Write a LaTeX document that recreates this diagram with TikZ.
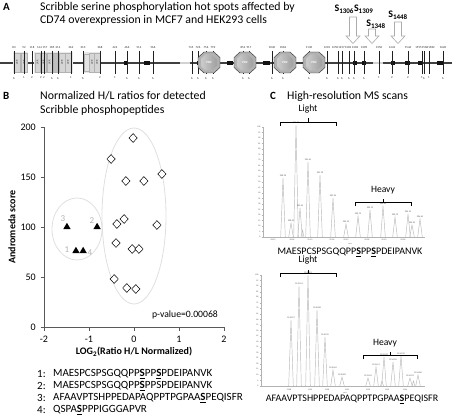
\documentclass[tikz,border=0pt]{standalone}
\usepackage{fontspec}
\setmainfont{Carlito}
\setsansfont{Carlito}
\usetikzlibrary{arrows.meta,shapes.geometric,positioning}
\newcommand{\psite}{\underline{\textbf{S}}}

\begin{document}
\begin{tikzpicture}[x=1pt,y=-1pt,
    every node/.style={inner sep=0pt},
    headtxt/.style={anchor=west, font=\fontsize{11.8}{13}\selectfont},
    panel/.style={anchor=west, font=\fontsize{11}{13}\selectfont\bfseries},
    tinynum/.style={font=\fontsize{3}{3}\selectfont, text=gray!30!black},
    lrrbox/.style={draw=gray!60, fill=gray!32, line width=0.3pt},
    lrrtxt/.style={rotate=90, font=\fontsize{2.6}{3}\selectfont, text=gray!30!black},
    tickline/.style={line width=0.3pt, gray!25!black},
    hollowarrow/.style={draw=gray!65, fill=white, line width=0.6pt},
    slab/.style={font=\fontsize{10}{12}\selectfont\bfseries},
    axisline/.style={draw=gray!70!black, line width=0.5pt},
    ticklab/.style={font=\fontsize{10}{11}\selectfont},
    axlab/.style={font=\fontsize{10}{11}\selectfont\bfseries},
    hipoint/.style={diamond, draw, fill=white, minimum width=8.5pt, minimum height=9pt, line width=0.5pt},
    lopoint/.style={regular polygon, regular polygon sides=3, fill=black, minimum size=8.5pt},
    ptnum/.style={font=\fontsize{9}{10}\selectfont, text=gray!60},
    grpellipse/.style={draw=gray!25, line width=0.8pt},
    peak/.style={draw=gray!55, line width=0.45pt},
    peaklab/.style={font=\fontsize{2.2}{2.5}\selectfont, text=gray!50!black, anchor=south},
    speclab/.style={font=\fontsize{2}{2}\selectfont, text=gray!50!black},
    brack/.style={line width=0.8pt},
    ionlab/.style={font=\fontsize{9.6}{11}\selectfont},
    seq/.style={anchor=west, font=\fontsize{11}{13}\selectfont},
    specseq/.style={font=\fontsize{10}{12}\selectfont}]
\useasboundingbox (0,0) rectangle (452,417);

% ---------- A: Scribble domain map
\node[panel] (pa) at (3,7) {A};
\node[headtxt] (ta1) at (40,7) {Scribble serine phosphorylation hot spots affected by};
\node[headtxt] (ta2) at (40,20.5) {CD74 overexpression in MCF7 and HEK293 cells};

\draw[line width=2.2pt, gray!50!black] (0,63) -- (452,63);
\draw[line width=2.6pt, gray!35] (180,63) -- (190,63);
\draw[line width=2.6pt, gray!35] (373,63) -- (383,63);
\foreach \bx/\bw in {126/2,147/3,198/1.5,230/3,266/3.5,355/2,364/2,393/2,407/2.5,420/2,440/3}
  \fill[gray!15!black] ({\bx-\bw},61) rectangle ({\bx+\bw},65);

% LRR repeats
\foreach \xa/\xb in {13/28,34/73,83/100}
  \fill[gray!18] (\xa,52) rectangle (\xb,73);
\foreach \bx [count=\i] in {17,24,37.5,43.5,49.5,62,68,92,97} {
  \draw[lrrbox] ({\bx-2.8},53) rectangle ({\bx+2.8},72);
  \node[lrrtxt] (lrr\i) at (\bx,62.5) {LRR};
}
\draw[lrrbox, fill=gray!50] (53,53) rectangle (58.6,72);
\draw[lrrbox, fill=gray!22] (84,54) rectangle (89,71);

% position ticks (label x may sit a little off the tick)
\foreach \px/\lx/\tl/\bl [count=\i] in {14/14/83/6,24/24/92/1,32/32/118/2,41/39.5/144/2,44/45/157/2,
    52/52/185/6,58/58/214/6,71/71/262/1,83/83/310/6,100/100/368/2,115/115/424/1,127/127/466/6,
    139/139/514/6,153/153/566/6,192/191/745/6,198/198/726/6,206/206/756/6,213/213/792/6,
    243/243/854/6,249/249/917/6,272/272/1040/6,283/283/1063/6,309/309/1130/6,327/327/1201/6,
    338/335/1250/6,342/341.5/1257/6,349/348/1302/6,354/355/1303/6,364/364/1309/6,379/379/1350/1,
    392/392/1442/2,408/408/1546/2,422/418.5/1555/1,424/425/1568/6,429/431.5/1582/1,443/443/1620/6} {
  \draw[tickline] (\px,51) -- (\px,74);
  \node[tinynum] (tt\i) at (\lx,47.5) {\tl};
  \node[tinynum] (tb\i) at (\px,78) {\bl};
}

% PDZ domains
\foreach \c [count=\i] in {209,245,285,314} {
  \draw[fill=gray!62, draw=gray!35!black, line width=0.4pt]
    ({\c-11},57.5) -- ({\c-5},52) -- ({\c+5},52) -- ({\c+11},57.5) -- ({\c+11},67.5)
    -- ({\c+5},73) -- ({\c-5},73) -- ({\c-11},67.5) -- cycle;
  \draw[left color=gray!40, right color=gray!75, draw=gray!55]
    ({\c-8},58.5) -- ({\c-4},54.5) -- ({\c+4},54.5) -- ({\c+8},58.5) -- ({\c+8},66.5)
    -- ({\c+4},70.5) -- ({\c-4},70.5) -- ({\c-8},66.5) -- cycle;
  \node[font=\fontsize{3.2}{4}\selectfont\bfseries, text=white] (pdz\i) at (\c,62.5) {PDZ};
}

% hot spot arrows
\foreach \ax/\at [count=\i] in {353/17,372/29,398/22}
  \draw[hollowarrow] ({\ax-3.5},\at) -- ({\ax+3.5},\at) -- ({\ax+3.5},36) -- ({\ax+7},36)
    -- (\ax,43.5) -- ({\ax-7},36) -- ({\ax-3.5},36) -- cycle;
\node[slab] (s1) at (354,9) {S\textsubscript{1306}S\textsubscript{1309}};
\node[slab] (s2) at (376,24) {S\textsubscript{1348}};
\node[slab] (s3) at (398,15) {S\textsubscript{1448}};

% ---------- B: scatter plot
\node[panel] (pb) at (3,96) {B};
\node[headtxt] (tb1) at (40,96) {Normalized H/L ratios for detected};
\node[headtxt] (tb2) at (40,110) {Scribble phosphopeptides};

\draw[grpellipse] (77,229) ellipse [x radius=25pt, y radius=31pt];
\draw[grpellipse] (134,216) ellipse [x radius=32pt, y radius=88pt];

\draw[axisline] (44,127) -- (44,327) -- (224,327);
\foreach \v [count=\i] in {0,50,...,200} {
  \draw[axisline] (40.5,{327-\v}) -- (44,{327-\v});
  \node[ticklab, anchor=east] (yl\i) at (36,{327-\v}) {\v};
}
\foreach \v [count=\i] in {-2,...,2} {
  \draw[axisline] ({134+45*\v},327) -- ({134+45*\v},330.5);
  \node[ticklab] (xl\i) at ({134+45*\v},339) {\v};
}
\node[axlab] (xlab) at (134,352) {LOG\textsubscript{2}(Ratio H/L Normalized)};
\node[axlab, rotate=90] (ylab) at (12,227) {Andromeda score};
\node[ticklab, font=\fontsize{9.7}{11}\selectfont] (pval) at (185,315) {p-value=0.00068};

\begin{scope}[shift={(134,327)}, x=45pt, y=1pt]
  \foreach \dx/\dy [count=\i] in {-0.02/189,-0.51/168,-0.18/146,0.22/146,0.62/153,-0.38/103,-0.22/108,
      0.51/102,-0.40/84,-0.04/78,0.11/78,-0.44/48,-0.16/39,0.04/38}
    \node[hipoint] (d\i) at (\dx,\dy) {};
  \node[lopoint] (t3) at (-1.49,100) {};
  \node[lopoint] (t2) at (-0.82,100) {};
  \node[lopoint] (t1) at (-1.29,76) {};
  \node[lopoint] (t4) at (-1.13,76) {};
\end{scope}
\node[ptnum] (n3) at (63,219) {3};
\node[ptnum] (n2) at (92,221) {2};
\node[ptnum] (n1) at (67,250) {1};
\node[ptnum] (n4) at (90,253) {4};

% peptide list
\node[seq] (k1) at (37,374) {1:};
\node[seq] (q1) at (53,374) {MAESPCSPSGQQPP\psite PP\psite PDEIPANVK};
\node[seq] (k2) at (37,386) {2:};
\node[seq] (q2) at (53,386) {MAESPCSPSGQQPP\psite PPSPDEIPANVK};
\node[seq] (k3) at (37,398) {3:};
\node[seq] (q3) at (53,398) {AFAAVPTSHPPEDAPAQPPTPGPAA\psite PEQISFR};
\node[seq] (k4) at (37,410) {4:};
\node[seq] (q4) at (53,410) {QSPA\psite PPPIGGGAPVR};

% ---------- C: MS scans
\node[panel] (pc) at (270,96) {C};
\node[headtxt] (tc1) at (287,96) {High-resolution MS scans};

% scan 1
\draw[gray!60, line width=0.4pt] (263,127) -- (263,237) -- (425,237);
\foreach \v in {0,5,...,100} {
  \draw[gray!60, line width=0.3pt] (261.5,{237-1.1*\v}) -- (263,{237-1.1*\v});
  \node[speclab, anchor=east] at (260.5,{237-1.1*\v}) {\v};
}
\foreach \sx/\sl [count=\i] in {273/990.3,292/990.8,310/991.3,332/991.8,346/992.3,367/992.8,384/993.3,403/993.8}
  \node[speclab] (ax\i) at (\sx,240) {\sl};
\foreach \px/\py/\pl [count=\i] in {283/178/990.78,291/223/990.95,296/125/991.28,300/208/991.45,308/162/991.61,
    320/175/991.78,333/198/991.95,346/224/992.12,358/216/992.79,370/210/993.12,383/206/993.45,
    395/217/993.79,408/214/994.12,412/225/994.29,420/219/994.45} {
  \draw[peak] ({\px-2.3},237) -- (\px,\py) -- ({\px+2.3},237);
  \node[peaklab] (pa\i) at (\px,{\py-1}) {\pl};
}
\draw[peak] (301,237) -- (302.5,230) -- (304,237);
\node[speclab] (mz1) at (350,243.5) {m/z};
\draw[brack] (280,126) -- (280,122) -- (336,122) -- (336,126) (308,122) -- (308,118.5);
\node[ionlab] (li1) at (308,109) {Light};
\draw[brack] (355,206) -- (355,202) -- (411,202) -- (411,206) (383,202) -- (383,198.5);
\node[ionlab] (he1) at (383,190) {Heavy};
\node[specseq] (sq1) at (350,252) {MAESPCSPSGQQPP\psite PP\psite PDEIPANVK};

% scan 2
\draw[gray!60, line width=0.4pt] (261,275) -- (261,386) -- (425,386);
\foreach \v in {0,5,...,100} {
  \draw[gray!60, line width=0.3pt] (259.5,{386-1.11*\v}) -- (261,{386-1.11*\v});
  \node[speclab, anchor=east] at (258.5,{386-1.11*\v}) {\v};
}
\foreach \sx/\sl [count=\i] in {289/1148,310/1149,327/1150,347/1151,368/1152,387/1153,405/1154}
  \node[speclab] (bx\i) at (\sx,389.5) {\sl};
\foreach \px/\py/\pl [count=\i] in {291/320/1149.27,299/286/1149.54,308/275/1149.81,317/310/1150.08,
    325/337/1150.35,333/370/1150.62,342/377/1150.89,368/378/1153.24,376/367/1153.51,384/357/1153.78,
    393/362/1154.05,401/356/1154.32,410/378/1154.59,418/375/1154.86} {
  \draw[peak] ({\px-2.3},386) -- (\px,\py) -- ({\px+2.3},386);
  \node[peaklab] (pb\i) at (\px,{\py-1}) {\pl};
}
\draw[peak] (380.5,386) -- (382,381) -- (383.5,386);
\draw[peak] (412,386) -- (413.5,381) -- (415,386);
\node[speclab] (mz2) at (345,392.5) {m/z};
\draw[brack] (280,277) -- (280,273) -- (336,273) -- (336,277) (308,273) -- (308,269.5);
\node[ionlab] (li2) at (308,260) {Light};
\draw[brack] (363,359) -- (363,355) -- (417,355) -- (417,359) (390,355) -- (390,351.5);
\node[ionlab] (he2) at (385,343) {Heavy};
\node[specseq] (sq2) at (352,399) {AFAAVPTSHPPEDAPAQPPTPGPAA\psite PEQISFR};
\end{tikzpicture}
\end{document}
